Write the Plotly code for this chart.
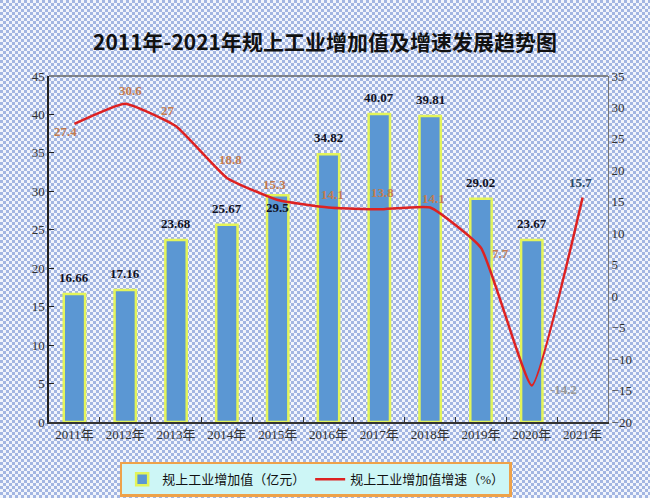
import base64
import plotly.graph_objects as go

years = ["2011年", "2012年", "2013年", "2014年", "2015年", "2016年",
         "2017年", "2018年", "2019年", "2020年", "2021年"]
added_value = [16.66, 17.16, 23.68, 25.67, 29.5, 34.82, 40.07, 39.81, 29.02, 23.67, None]
growth_rate = [27.4, 30.6, 27, 18.8, 15.3, 14.1, 13.8, 14.1, 7.7, -14.2, 15.7]

# label placement (pixel offsets, style only)
line_off = [(-9, 8), (5, -13), (-8, -16), (4, -18), (-3, -15), (4, -13),
            (3, -17), (3, -9), (20, 6), (32, 4), (-2, -15)]
line_colors = ["#c47c50"] * 9 + ["#969696", "#2e4a66"]
bar_inside = [False, False, False, False, True, False, False, False, False, False, False]

serif = "Liberation Serif, Noto Sans CJK SC, serif"

W, H = 650, 498
ML, MR, MT, MB = 49, 42, 76, 76
PW, PH = W - ML - MR, H - MT - MB

# checkered page background (style only)
svg = (f'<svg xmlns="http://www.w3.org/2000/svg" width="{W}" height="{H}">'
       '<defs><pattern id="c" width="6" height="6" patternUnits="userSpaceOnUse">'
       '<rect width="6" height="6" fill="#f2f5fc"/>'
       '<rect width="3" height="3" fill="#a3b6e2"/>'
       '<rect x="3" y="3" width="3" height="3" fill="#a3b6e2"/>'
       '</pattern></defs>'
       f'<rect width="{W}" height="{H}" fill="url(#c)"/></svg>')
bg_src = "data:image/svg+xml;base64," + base64.b64encode(svg.encode()).decode()

fig = go.Figure()
fig.add_trace(go.Bar(
    x=years, y=added_value, name="规上工业增加值（亿元）",
    marker=dict(color="#5b97d3", line=dict(color="#e3f45a", width=2.5)),
    width=0.42,
))
fig.add_trace(go.Scatter(
    x=years, y=growth_rate, name="规上工业增加值增速（%）", yaxis="y2",
    mode="lines",
    line=dict(color="#dd2222", width=2.5, shape="spline", smoothing=0.4),
    cliponaxis=False,
))

annotations = []
for yr, v, inside in zip(years, added_value, bar_inside):
    if v is None:
        continue
    annotations.append(dict(
        x=yr, y=v, xref="x", yref="y", text=f"<b>{v:g}</b>", showarrow=False,
        yanchor="top" if inside else "bottom", yshift=-3 if inside else 7,
        font=dict(family=serif, size=13, color="#111122")))
for yr, v, (dx, dy), c in zip(years, growth_rate, line_off, line_colors):
    annotations.append(dict(
        x=yr, y=v, xref="x", yref="y2", text=f"<b>{v:g}</b>", showarrow=False,
        xshift=dx, yshift=-dy,
        font=dict(family=serif, size=13, color=c)))

fig.update_layout(
    width=W, height=H,
    margin=dict(l=ML, r=MR, t=MT, b=MB, autoexpand=False),
    paper_bgcolor="#c4d1ee",
    plot_bgcolor="#9dcbf7",
    images=[dict(source=bg_src, xref="paper", yref="paper",
                 x=-ML / PW, y=1 + MT / PH, sizex=W / PW, sizey=H / PH,
                 xanchor="left", yanchor="top", sizing="stretch", layer="below")],
    title=dict(text="<b>2011年-2021年规上工业增加值及增速发展趋势图</b>",
               x=0.5, xanchor="center", y=0.915, yanchor="middle",
               font=dict(family="Noto Sans CJK SC", size=21, color="#111111")),
    showlegend=True,
    legend=dict(orientation="h", x=0.477, xanchor="center", y=-0.115, yanchor="top",
                bgcolor="#cdf6f6", bordercolor="#eea24a", borderwidth=2.5,
                font=dict(family=serif, size=13, color="#111111"),
                traceorder="normal"),
    annotations=annotations,
    xaxis=dict(showgrid=False, showline=True, linecolor="#333333", linewidth=1.5,
               ticks="inside", tickson="boundaries", ticklen=5, tickcolor="#333333",
               tickfont=dict(family=serif, size=13, color="#333333"),
               automargin=False),
    yaxis=dict(range=[0, 45], dtick=5, showgrid=False, showline=True,
               linecolor="#222222", linewidth=1.5, ticks="inside", ticklen=5,
               tickcolor="#222222", zeroline=False, automargin=False,
               tickfont=dict(family=serif, size=13, color="#333333")),
    yaxis2=dict(range=[-20, 35], dtick=5, overlaying="y", side="right",
                showgrid=False, showline=True, linecolor="#777777", linewidth=1,
                ticks="", zeroline=False, automargin=False,
                tickfont=dict(family=serif, size=13, color="#333333")),
)
fig.add_shape(type="line", xref="paper", yref="paper", x0=0, x1=1, y0=1, y1=1,
              line=dict(color="#666666", width=1.5))

fig.write_html("out.html", config={"displayModeBar": False},
               post_script="document.body.style.margin='0';")
